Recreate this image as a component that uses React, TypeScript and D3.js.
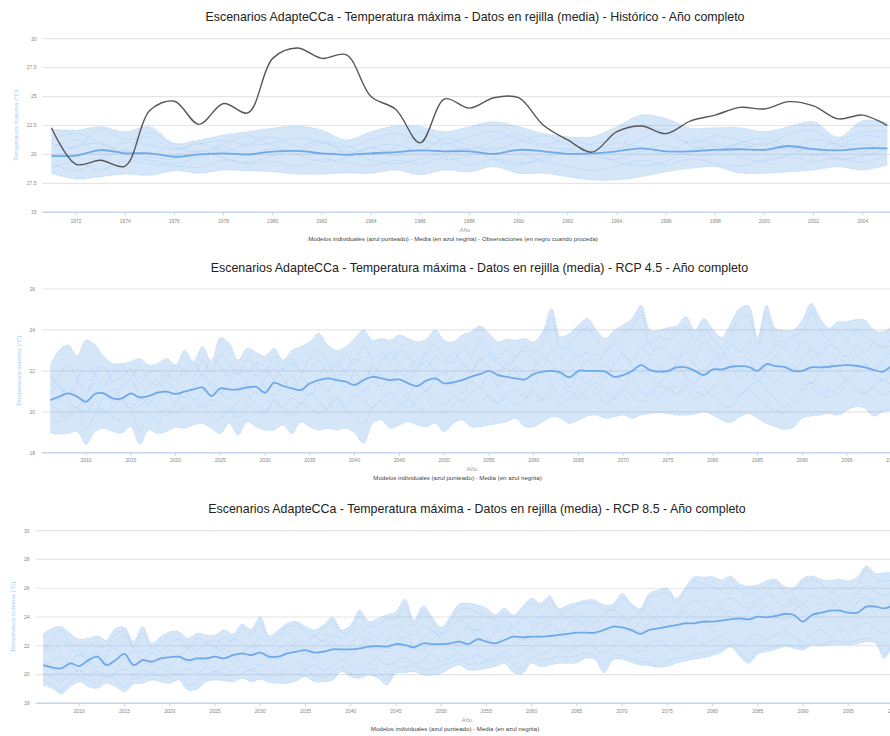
import React, { useEffect, useRef } from "react";
import * as d3 from "d3";

// ---------- Histórico (1971-2005) ----------
const histYears = d3.range(1971, 2006);
const histObs = [22.3, 19.15, 19.5, 19.0, 23.8, 24.6, 22.6, 24.4, 23.6, 28.3, 29.2, 28.3, 28.6, 25.0, 23.9, 21.0, 24.8, 24.0, 24.9, 24.9, 22.55, 21.25, 20.2, 21.97, 22.46, 21.8, 22.9, 23.4, 24.07, 23.93, 24.56, 24.19, 23.07, 23.4, 22.5];
const histMean = [19.87, 19.9, 20.38, 20.1, 20.1, 19.8, 20.0, 20.1, 20.0, 20.24, 20.3, 20.1, 19.97, 20.1, 20.2, 20.35, 20.27, 20.27, 20.05, 20.4, 20.27, 20.05, 20.1, 20.27, 20.53, 20.27, 20.27, 20.4, 20.45, 20.4, 20.73, 20.45, 20.35, 20.53, 20.53];
const histUpper = [22.17, 22.1, 22.4, 21.97, 22.4, 20.96, 21.25, 21.68, 21.97, 22.26, 22.46, 22.1, 21.25, 21.97, 22.46, 22.4, 21.97, 22.4, 22.83, 22.4, 21.83, 21.53, 21.53, 22.4, 23.4, 23.1, 22.26, 22.3, 22.3, 21.97, 22.4, 22.83, 21.48, 22.92, 22.74];
const histLower = [18.37, 17.88, 18.08, 18.31, 18.2, 18.6, 18.37, 18.65, 18.6, 18.5, 18.31, 18.3, 18.4, 18.37, 18.65, 18.25, 18.65, 18.5, 18.94, 18.37, 18.37, 18.08, 17.8, 17.8, 18.08, 18.5, 18.8, 18.94, 18.4, 18.37, 18.5, 18.65, 18.94, 18.65, 19.08];
const histModelA = [21.0, 20.6, 22.2, 21.3, 21.5, 20.5, 20.9, 21.2, 20.8, 21.0, 21.4, 21.0, 20.6, 21.3, 21.8, 21.2, 20.9, 21.5, 22.0, 21.3, 20.7, 20.5, 20.9, 21.4, 22.6, 21.8, 21.0, 21.6, 21.2, 20.8, 21.7, 22.1, 20.9, 21.6, 21.4];
const histModelB = [19.6, 20.7, 20.9, 20.0, 19.5, 19.2, 19.8, 20.6, 19.9, 20.5, 20.0, 19.4, 19.7, 20.6, 19.9, 20.8, 19.6, 19.9, 20.6, 20.2, 19.5, 20.3, 19.8, 19.6, 20.3, 20.8, 19.9, 20.1, 20.9, 20.3, 20.6, 19.9, 20.6, 20.9, 20.2];
const histModelC = [18.9, 19.3, 18.7, 19.4, 19.2, 19.0, 18.9, 19.5, 19.2, 19.4, 19.0, 19.6, 19.3, 19.0, 19.5, 19.2, 19.8, 19.1, 19.6, 19.3, 19.4, 19.0, 18.6, 19.0, 19.5, 19.1, 19.6, 19.2, 19.0, 19.5, 19.8, 19.4, 19.7, 19.3, 19.9];
const histModelD = [20.5, 21.3, 20.2, 21.0, 20.8, 20.4, 21.0, 20.3, 20.9, 21.5, 20.7, 21.2, 20.1, 20.6, 20.9, 20.2, 21.4, 20.8, 20.4, 21.1, 21.6, 20.9, 20.4, 21.0, 20.6, 20.1, 21.2, 20.9, 20.5, 21.0, 20.4, 21.3, 20.8, 20.2, 21.1];
const histModelE = [21.3, 21.8, 21.0, 20.4, 21.9, 20.7, 20.2, 20.9, 21.6, 20.8, 20.3, 21.0, 20.8, 20.0, 20.6, 21.9, 21.1, 20.4, 21.2, 21.7, 20.9, 21.3, 20.8, 20.5, 21.3, 22.2, 20.8, 20.4, 21.0, 21.4, 20.7, 20.4, 21.2, 21.9, 22.0];
const histModelF = [19.2, 18.6, 19.6, 20.3, 19.8, 19.6, 20.3, 19.7, 19.3, 19.9, 20.4, 20.0, 20.3, 19.5, 19.2, 19.6, 20.2, 20.5, 19.6, 19.1, 19.7, 20.4, 20.1, 19.4, 19.0, 19.4, 20.4, 20.7, 19.8, 19.4, 20.0, 20.5, 19.6, 19.9, 20.5];
const histTicks = d3.range(1972, 2005, 2);

// ---------- RCP 4.5 (2006-2100) ----------
const rcpYears = d3.range(2006, 2101);
const rcp45Upper = [
  22.28, 23.0, 23.26, 22.72, 23.5, 23.26, 22.7, 22.36, 22.36, 22.45,
  22.6, 22.28, 22.36, 22.6, 22.28, 23.0, 22.45, 23.18, 22.45, 23.63,
  23.34, 22.53, 23.1, 22.9, 22.72, 23.1, 22.53, 23.0, 23.18, 23.42,
  23.83, 23.26, 23.0, 23.18, 23.58, 24.0, 23.5, 23.58, 23.5, 23.75,
  23.58, 23.42, 23.54, 24.0, 23.5, 23.42, 23.75, 23.91, 24.19, 23.83,
  23.42, 23.54, 23.5, 23.58, 23.42, 23.91, 25.05, 23.67, 23.83, 24.24,
  24.56, 23.99, 23.59, 23.99, 24.24, 24.56, 25.21, 23.99, 23.99, 24.12,
  24.19, 24.64, 23.99, 24.56, 24.03, 23.64, 24.32, 25.05, 25.17, 23.64,
  25.21, 24.08, 23.99, 23.99, 24.48, 25.3, 24.56, 24.08, 24.4, 24.4,
  24.51, 24.48, 23.99, 23.91, 24.16,
];
const rcp45Lower = [
  18.98, 18.91, 18.94, 19.03, 18.41, 19.03, 19.19, 19.03, 18.98, 19.27,
  18.42, 19.11, 18.94, 19.03, 19.24, 19.19, 19.35, 19.43, 19.19, 18.94,
  19.43, 18.86, 19.51, 19.27, 19.11, 19.11, 19.35, 18.94, 19.51, 19.27,
  19.11, 19.19, 19.11, 19.19, 18.98, 18.46, 19.43, 19.6, 19.19, 19.35,
  19.51, 19.35, 19.27, 19.43, 19.03, 19.43, 19.6, 19.27, 19.27, 19.35,
  19.43, 19.51, 19.68, 19.27, 19.27, 19.51, 19.76, 19.68, 19.43, 19.6,
  19.79, 19.84, 19.68, 19.76, 19.84, 19.68, 19.84, 19.92, 19.95, 19.92,
  19.84, 19.84, 19.89, 20.0, 19.84, 19.6, 19.47, 19.76, 19.92, 19.68,
  19.43, 19.27, 19.14, 19.24, 19.68, 19.79, 19.84, 19.92, 19.84, 20.08,
  20.25, 20.16, 19.79, 20.0, 20.05,
];
const rcp45Mean = [
  20.57, 20.74, 20.9, 20.74, 20.49, 20.87, 20.9, 20.65, 20.65, 20.9,
  20.7, 20.77, 20.93, 20.98, 20.87, 20.98, 21.09, 21.19, 20.77, 21.14,
  21.09, 21.09, 21.19, 21.22, 20.93, 21.42, 21.26, 21.14, 21.06, 21.39,
  21.55, 21.63, 21.55, 21.47, 21.31, 21.55, 21.71, 21.63, 21.55, 21.58,
  21.39, 21.26, 21.52, 21.63, 21.39, 21.44, 21.55, 21.71, 21.84, 22.0,
  21.79, 21.71, 21.63, 21.58, 21.84, 21.96, 22.0, 21.91, 21.68, 22.0,
  22.0, 22.0, 21.96, 21.71, 21.79, 22.0, 22.28, 22.04, 21.96, 22.0,
  22.17, 22.17, 22.0, 21.79, 22.07, 22.07, 22.2, 22.23, 22.2, 22.0,
  22.33, 22.23, 22.2, 22.0, 22.0, 22.17, 22.17, 22.2, 22.26, 22.28,
  22.25, 22.17, 22.04, 21.96, 22.28,
];
const rcp45ModelA = [
  21.2, 21.8, 22.3, 21.6, 21.0, 21.9, 22.2, 21.5, 21.7, 22.1,
  21.4, 21.9, 22.0, 21.6, 22.3, 22.0, 21.7, 22.5, 21.9, 22.8,
  22.3, 21.8, 22.6, 22.2, 21.9, 22.7, 22.1, 22.4, 22.0, 22.6,
  23.0, 22.5, 22.2, 22.8, 22.3, 23.2, 22.6, 22.9, 22.4, 23.0,
  22.7, 22.2, 22.9, 23.3, 22.6, 22.4, 23.1, 22.8, 23.5, 23.0,
  22.6, 23.0, 22.7, 23.2, 22.9, 23.4, 24.6, 23.1, 23.3, 23.8,
  24.1, 23.5, 23.0, 23.4, 23.8, 24.1, 24.8, 23.3, 23.7, 23.5,
  23.9, 24.2, 23.4, 24.0, 23.6, 23.1, 23.8, 24.6, 24.7, 23.2,
  24.8, 23.6, 23.4, 23.7, 23.9, 24.9, 24.0, 23.5, 23.9, 23.6,
  24.0, 23.7, 23.4, 23.2, 23.6,
];
const rcp45ModelB = [
  19.8, 19.5, 19.9, 20.2, 19.2, 19.8, 20.1, 19.7, 19.6, 20.0,
  19.1, 19.8, 19.6, 20.1, 19.9, 20.3, 20.0, 20.4, 19.8, 19.6,
  20.2, 19.7, 20.3, 20.0, 19.9, 20.5, 20.1, 19.8, 20.4, 20.2,
  19.9, 20.3, 20.6, 20.1, 19.8, 19.4, 20.2, 20.5, 20.0, 20.3,
  20.6, 20.2, 20.0, 20.4, 19.9, 20.3, 20.6, 20.1, 20.5, 20.8,
  20.4, 20.7, 20.3, 20.6, 20.9, 20.5, 20.8, 20.4, 20.7, 21.0,
  20.6, 20.9, 20.4, 20.7, 21.1, 20.8, 20.5, 21.0, 20.7, 21.2,
  20.8, 21.1, 20.6, 21.0, 20.8, 20.4, 20.2, 20.8, 21.1, 20.7,
  20.3, 20.1, 19.9, 20.4, 20.9, 21.2, 20.8, 21.1, 20.9, 21.3,
  21.0, 20.9, 21.2, 20.8, 21.1,
];
const rcp45ModelC = [
  20.9, 21.3, 20.6, 20.2, 20.8, 21.4, 20.9, 20.5, 21.2, 21.6,
  20.8, 20.4, 21.0, 21.5, 21.1, 20.7, 21.3, 21.8, 21.2, 20.9,
  21.5, 21.9, 21.3, 20.9, 21.6, 22.1, 21.6, 21.1, 21.7, 21.3,
  21.8, 22.3, 21.6, 21.2, 21.9, 21.5, 22.2, 21.8, 21.4, 22.0,
  21.6, 22.1, 22.5, 21.9, 21.3, 21.8, 22.3, 21.9, 22.6, 22.2,
  21.8, 22.4, 22.0, 21.5, 22.1, 22.7, 22.3, 21.8, 21.2, 22.0,
  22.5, 22.1, 21.7, 22.3, 22.8, 22.2, 21.9, 22.6, 22.2, 21.8,
  22.4, 22.9, 22.3, 21.8, 22.5, 22.9, 22.4, 22.0, 22.6, 21.5,
  22.2, 22.7, 22.3, 21.9, 22.6, 23.0, 22.5, 22.1, 22.7, 22.3,
  22.8, 22.4, 22.0, 22.6, 22.9,
];
const rcp45ModelD = [
  20.1, 20.6, 21.2, 20.8, 20.3, 20.0, 20.7, 21.1, 20.6, 20.2,
  20.6, 21.2, 21.5, 20.9, 20.5, 21.0, 20.6, 20.9, 21.4, 21.0,
  20.6, 21.1, 21.4, 21.8, 21.2, 20.8, 21.3, 21.7, 21.1, 20.8,
  21.4, 21.0, 21.6, 21.9, 21.4, 21.0, 21.5, 21.2, 21.7, 21.3,
  20.9, 21.4, 21.0, 21.6, 21.9, 21.4, 20.9, 21.5, 21.2, 21.8,
  21.3, 21.7, 22.2, 21.8, 21.4, 21.9, 21.5, 22.1, 22.4, 21.7,
  21.4, 21.9, 22.3, 21.8, 21.5, 22.0, 22.4, 21.8, 21.4, 21.9,
  22.3, 21.7, 21.4, 22.0, 22.4, 21.9, 22.2, 21.6, 21.9, 22.4,
  21.8, 21.5, 21.9, 22.3, 21.7, 21.4, 21.9, 22.4, 22.0, 21.6,
  21.9, 22.3, 21.8, 21.5, 22.0,
];
const rcp45ModelE = [
  21.8, 21.2, 20.9, 21.5, 22.4, 21.8, 21.3, 21.9, 22.3, 21.7,
  22.2, 21.6, 21.3, 21.9, 21.5, 22.1, 22.4, 21.8, 22.6, 22.2,
  21.7, 22.3, 21.9, 22.4, 22.1, 21.6, 22.2, 22.6, 21.9, 22.1,
  22.5, 21.9, 22.4, 22.0, 22.6, 22.2, 21.8, 22.5, 22.9, 22.3,
  22.0, 22.6, 22.2, 22.7, 22.4, 22.9, 22.4, 22.0, 22.5, 22.8,
  22.4, 22.1, 22.7, 23.0, 22.5, 22.2, 23.0, 22.6, 23.1, 22.7,
  22.9, 22.4, 22.9, 23.3, 22.8, 22.5, 23.1, 22.8, 23.2, 22.9,
  22.6, 23.2, 22.8, 23.4, 23.0, 22.6, 23.3, 22.9, 23.4, 23.0,
  22.7, 23.3, 23.1, 22.8, 23.5, 23.1, 22.8, 23.3, 23.0, 22.7,
  23.2, 22.9, 23.4, 23.1, 23.3,
];
const rcp45ModelF = [
  20.4, 20.0, 19.6, 20.2, 20.0, 20.5, 19.9, 20.2, 20.6, 20.1,
  20.3, 20.6, 20.2, 19.8, 20.4, 20.1, 20.5, 20.2, 20.6, 20.3,
  20.0, 20.5, 20.8, 20.3, 20.0, 20.6, 20.2, 20.7, 20.4, 20.9,
  20.5, 20.1, 20.7, 20.3, 20.8, 20.5, 20.2, 20.6, 20.9, 20.5,
  20.2, 20.7, 21.0, 20.6, 20.3, 20.8, 20.5, 20.9, 21.2, 20.7,
  20.4, 20.9, 21.1, 20.7, 21.0, 20.6, 21.2, 20.8, 21.0, 20.7,
  21.1, 21.4, 21.0, 20.6, 21.2, 21.5, 21.0, 20.8, 21.3, 21.1,
  20.9, 21.3, 21.0, 20.8, 21.2, 21.4, 21.0, 20.8, 21.2, 21.5,
  21.1, 20.6, 20.2, 20.7, 21.1, 21.4, 21.0, 20.7, 21.2, 21.5,
  21.2, 20.9, 21.3, 21.6, 21.2,
];

// ---------- RCP 8.5 (2006-2100) ----------
const rcp85Upper = [
  22.82, 23.21, 23.33, 22.86, 22.45, 22.52, 22.68, 22.4, 23.21, 23.28,
  22.29, 23.33, 22.17, 22.63, 22.98, 22.98, 22.52, 22.86, 22.75, 22.75,
  23.1, 22.82, 23.51, 23.14, 24.02, 22.7, 23.1, 23.56, 23.68, 23.33,
  23.1, 23.44, 23.98, 23.1, 23.44, 24.49, 23.68, 23.91, 24.14, 24.37,
  25.23, 23.79, 24.76, 24.02, 23.28, 24.02, 24.9, 24.95, 24.83, 24.6,
  24.14, 24.6, 24.14, 24.72, 25.3, 24.95, 25.46, 24.6, 24.83, 25.0,
  25.18, 25.18, 24.83, 24.9, 25.64, 24.95, 24.6, 25.64, 25.88, 25.99,
  25.3, 26.06, 26.8, 26.76, 26.8, 26.57, 26.85, 26.3, 26.15, 26.22,
  26.52, 26.62, 26.1, 26.06, 26.69, 26.85, 26.62, 26.52, 26.62, 26.52,
  26.76, 27.54, 27.03, 27.08, 27.08,
];
const rcp85Lower = [
  19.27, 19.04, 18.65, 19.16, 19.5, 19.16, 19.04, 19.39, 19.16, 18.81,
  19.34, 19.39, 19.62, 19.5, 19.39, 19.62, 18.93, 18.97, 19.5, 19.62,
  19.57, 19.5, 19.74, 19.5, 19.67, 19.44, 19.39, 19.39, 19.57, 19.85,
  19.5, 19.51, 19.62, 20.2, 19.85, 19.74, 19.97, 19.74, 19.27, 20.08,
  20.13, 20.2, 19.97, 19.97, 20.08, 20.43, 20.66, 20.32, 20.32, 20.43,
  20.55, 20.78, 20.13, 20.08, 20.78, 20.55, 20.66, 20.78, 20.78, 20.82,
  21.13, 21.06, 20.13, 21.01, 21.06, 20.85, 20.66, 20.61, 20.5, 20.57,
  20.78, 20.94, 21.06, 21.17, 21.33, 21.56, 21.91, 21.27, 20.78, 21.43,
  21.59, 21.75, 21.94, 21.82, 21.7, 22.03, 21.98, 22.05, 22.05, 22.05,
  22.12, 22.28, 22.17, 21.13, 22.28,
];
const rcp85Mean = [
  20.66, 20.5, 20.43, 20.78, 20.59, 21.0, 21.24, 20.66, 21.0, 21.43,
  20.66, 21.0, 20.89, 21.12, 21.2, 21.24, 21.0, 21.12, 21.12, 21.24,
  21.12, 21.35, 21.47, 21.35, 21.52, 21.24, 21.24, 21.47, 21.59, 21.7,
  21.52, 21.59, 21.75, 21.75, 21.75, 21.82, 21.94, 21.98, 21.94, 22.12,
  22.05, 21.89, 22.17, 22.12, 22.12, 22.17, 22.29, 22.12, 22.45, 22.29,
  22.17, 22.4, 22.63, 22.59, 22.63, 22.63, 22.68, 22.75, 22.82, 22.91,
  22.91, 22.91, 23.1, 23.33, 23.28, 23.1, 22.82, 23.1, 23.21, 23.33,
  23.44, 23.56, 23.56, 23.68, 23.68, 23.75, 23.84, 23.91, 23.84, 24.02,
  23.98, 24.07, 24.21, 24.14, 23.68, 24.14, 24.3, 24.44, 24.44, 24.3,
  24.3, 24.72, 24.72, 24.6, 24.83,
];
const rcp85ModelA = [
  21.4, 22.6, 23.1, 22.2, 21.8, 21.2, 21.9, 22.0, 22.8, 23.0,
  21.9, 22.9, 21.8, 22.2, 22.7, 22.4, 21.8, 22.5, 22.3, 22.0,
  22.6, 22.3, 23.2, 22.8, 23.6, 22.4, 22.8, 23.3, 23.4, 23.0,
  22.7, 23.2, 23.7, 22.9, 23.1, 24.0, 23.3, 23.5, 23.8, 23.9,
  24.8, 23.4, 24.4, 23.6, 22.9, 23.7, 24.5, 24.6, 24.3, 24.1,
  23.8, 24.2, 24.0, 24.5, 25.0, 24.7, 25.2, 24.3, 24.5, 24.8,
  25.0, 24.9, 24.5, 24.6, 25.3, 24.8, 24.2, 25.4, 25.5, 25.7,
  25.0, 25.8, 26.5, 26.3, 26.1, 25.9, 26.6, 25.8, 25.6, 25.9,
  26.2, 26.4, 25.7, 25.9, 26.4, 26.6, 26.3, 25.8, 26.1, 25.9,
  26.2, 27.3, 26.7, 26.5, 26.6,
];
const rcp85ModelB = [
  19.6, 19.3, 18.9, 19.5, 19.8, 19.6, 19.4, 19.9, 19.6, 19.1,
  19.7, 19.8, 20.0, 19.9, 19.8, 20.1, 19.3, 19.4, 19.9, 20.2,
  20.0, 19.9, 20.1, 20.3, 20.0, 19.9, 19.9, 20.2, 20.0, 20.3,
  19.9, 19.8, 20.2, 20.5, 20.1, 20.0, 20.4, 20.2, 19.6, 20.4,
  20.5, 20.6, 20.3, 20.4, 20.6, 20.8, 21.0, 20.7, 20.8, 20.9,
  21.0, 21.2, 20.7, 20.4, 21.2, 21.0, 21.1, 21.3, 21.2, 21.3,
  21.5, 21.2, 20.6, 21.3, 21.3, 21.1, 20.9, 20.8, 20.6, 20.9,
  21.1, 21.2, 21.4, 21.5, 21.6, 21.8, 22.0, 21.5, 21.0, 21.7,
  21.8, 22.0, 22.1, 22.0, 21.9, 22.2, 22.1, 22.3, 22.3, 22.2,
  22.4, 22.5, 22.4, 21.4, 22.5,
];
const rcp85ModelC = [
  20.4, 20.9, 21.3, 20.7, 20.2, 20.8, 21.5, 20.9, 20.4, 21.1,
  21.6, 21.0, 20.6, 21.2, 21.7, 21.3, 20.8, 21.0, 21.5, 21.9,
  21.4, 20.9, 21.5, 22.0, 21.6, 21.1, 21.7, 22.2, 21.8, 21.4,
  22.0, 22.4, 21.8, 21.5, 22.1, 22.6, 22.0, 21.7, 22.3, 22.8,
  22.2, 21.8, 22.5, 23.0, 22.4, 22.1, 22.8, 23.2, 22.6, 22.3,
  23.0, 23.4, 22.8, 22.4, 23.1, 23.6, 23.0, 22.7, 23.4, 23.8,
  23.2, 22.9, 23.6, 24.0, 23.4, 23.0, 23.7, 24.2, 23.6, 23.3,
  24.0, 24.4, 23.8, 23.5, 24.2, 24.6, 24.0, 23.7, 24.4, 24.8,
  24.2, 23.9, 24.6, 25.0, 24.4, 24.1, 24.8, 25.2, 24.6, 24.3,
  25.0, 25.4, 24.9, 24.6, 25.3,
];
const rcp85ModelD = [
  21.0, 20.4, 20.1, 20.8, 21.4, 20.9, 20.5, 21.3, 21.8, 21.2,
  20.6, 21.0, 21.5, 20.9, 20.6, 21.2, 21.7, 21.2, 20.8, 21.4,
  21.8, 21.3, 20.9, 21.5, 22.0, 21.4, 21.1, 21.7, 22.2, 21.6,
  21.2, 21.8, 22.3, 21.7, 21.4, 21.9, 22.5, 21.9, 21.6, 22.2,
  22.6, 22.0, 21.7, 22.4, 22.9, 22.3, 22.0, 22.6, 23.1, 22.5,
  22.2, 22.8, 23.3, 22.7, 22.4, 23.0, 23.5, 22.9, 22.6, 23.2,
  23.7, 23.1, 22.8, 23.4, 23.9, 23.3, 23.0, 23.6, 24.1, 23.5,
  23.2, 23.8, 24.3, 23.7, 23.4, 24.0, 24.5, 23.9, 23.6, 24.2,
  24.7, 24.1, 23.8, 24.4, 24.9, 24.3, 24.0, 24.6, 25.1, 24.5,
  24.2, 24.8, 25.3, 24.7, 24.4,
];
const rcp85ModelE = [
  22.0, 21.6, 22.3, 21.9, 21.3, 21.9, 22.2, 21.6, 22.3, 22.7,
  21.8, 21.5, 21.9, 21.6, 22.1, 22.5, 22.0, 21.7, 22.1, 22.4,
  22.0, 22.5, 22.2, 21.9, 22.6, 22.1, 22.4, 22.9, 22.5, 22.2,
  22.7, 22.3, 22.8, 22.5, 22.9, 23.4, 22.9, 22.6, 23.1, 23.5,
  23.0, 22.8, 23.4, 23.1, 22.7, 23.3, 23.8, 23.4, 23.1, 23.6,
  23.3, 23.7, 23.4, 23.9, 23.6, 24.1, 23.7, 24.2, 23.9, 24.3,
  24.0, 23.6, 24.2, 24.5, 24.1, 23.8, 24.4, 24.8, 24.3, 24.6,
  24.2, 24.7, 25.1, 24.8, 24.5, 25.0, 25.3, 24.9, 24.6, 25.2,
  25.6, 25.1, 24.8, 25.3, 25.0, 25.5, 25.2, 25.7, 25.4, 25.1,
  25.6, 26.2, 25.8, 25.5, 25.9,
];
const rcp85ModelF = [
  20.1, 19.8, 19.5, 20.0, 20.3, 19.9, 20.2, 19.8, 20.1, 20.4,
  20.0, 20.3, 20.1, 20.5, 20.2, 20.0, 20.4, 20.1, 20.5, 20.2,
  20.5, 20.2, 20.6, 20.3, 20.7, 20.4, 20.1, 20.5, 20.8, 20.4,
  20.7, 20.3, 20.6, 21.0, 20.6, 20.3, 20.8, 21.1, 20.7, 20.9,
  21.2, 20.8, 21.0, 21.4, 20.9, 21.2, 21.5, 21.1, 21.4, 21.0,
  21.3, 21.6, 21.2, 21.5, 21.9, 21.4, 21.7, 22.0, 21.6, 21.9,
  22.2, 21.8, 21.5, 22.0, 22.3, 21.9, 21.6, 22.1, 22.4, 22.0,
  21.7, 22.2, 22.5, 22.1, 22.4, 22.7, 22.3, 22.0, 22.5, 22.8,
  22.4, 22.8, 23.0, 22.6, 22.3, 22.8, 23.1, 22.7, 23.2, 22.9,
  23.3, 23.6, 23.2, 22.9, 23.4,
];
const rcpTicks = d3.range(2010, 2101, 5);

const yLabel = "Temperatura máxima (°C)";
const titleBase = "Escenarios AdapteCCa - Temperatura máxima - Datos en rejilla (media) - ";

type Panel = {
  title: string;
  titleX: number;
  titleY: number;
  years: number[];
  upper: number[];
  lower: number[];
  mean: number[];
  models: number[][];
  obs?: number[];
  xTicks: number[];
  xKnown: [number, number];
  xPix: [number, number];
  plotLeft: number;
  yDomain: [number, number];
  yPix: [number, number];
  yTicks: number[];
  yTickX: number;
  yTitleX: number;
  xTickY: number;
  anoX: number;
  anoY: number;
  sub: string;
  subX: number;
  subY: number;
};

const panels: Panel[] = [
  {
    title: titleBase + "Histórico - Año completo",
    titleX: 475, titleY: 20.5,
    years: histYears, upper: histUpper, lower: histLower, mean: histMean,
    models: [histModelA, histModelB, histModelC, histModelD, histModelE, histModelF], obs: histObs,
    xTicks: histTicks, xKnown: [1972, 2004], xPix: [76, 862.7], plotLeft: 42.7,
    yDomain: [15, 30], yPix: [212.3, 38.7], yTicks: [15, 17.5, 20, 22.5, 25, 27.5, 30],
    yTickX: 36.5, yTitleX: 18, xTickY: 223,
    anoX: 465, anoY: 232,
    sub: "Modelos individuales (azul punteado) - Media (en azul negrita) - Observaciones (en negro cuando proceda)",
    subX: 453, subY: 241,
  },
  {
    title: titleBase + "RCP 4.5 - Año completo",
    titleX: 479.5, titleY: 272.3,
    years: rcpYears, upper: rcp45Upper, lower: rcp45Lower, mean: rcp45Mean,
    models: [rcp45ModelA, rcp45ModelB, rcp45ModelC, rcp45ModelD, rcp45ModelE, rcp45ModelF],
    xTicks: rcpTicks, xKnown: [2010, 2090], xPix: [86, 802.3], plotLeft: 41.7,
    yDomain: [18, 26], yPix: [452.7, 289], yTicks: [18, 20, 22, 24, 26],
    yTickX: 35, yTitleX: 21, xTickY: 462.3,
    anoX: 472, anoY: 471,
    sub: "Modelos individuales (azul punteado) - Media (en azul negrita)",
    subX: 457.5, subY: 479.5,
  },
  {
    title: titleBase + "RCP 8.5 - Año completo",
    titleX: 477, titleY: 512.7,
    years: rcpYears, upper: rcp85Upper, lower: rcp85Lower, mean: rcp85Mean,
    models: [rcp85ModelA, rcp85ModelB, rcp85ModelC, rcp85ModelD, rcp85ModelE, rcp85ModelF],
    xTicks: rcpTicks, xKnown: [2010, 2090], xPix: [79.3, 803], plotLeft: 35.7,
    yDomain: [18, 30], yPix: [703.3, 530.7], yTicks: [18, 20, 22, 24, 26, 28, 30],
    yTickX: 29.5, yTitleX: 15, xTickY: 712.7,
    anoX: 467, anoY: 722,
    sub: "Modelos individuales (azul punteado) - Media (en azul negrita)",
    subX: 455, subY: 731,
  },
];

const W = 890;
const H = 736;
const FONT = "Arial, 'Liberation Sans', sans-serif";

export default function App() {
  const ref = useRef<SVGSVGElement>(null);

  useEffect(() => {
    const svg = d3.select(ref.current);
    svg.selectAll("*").remove();
    svg.append("rect").attr("width", W).attr("height", H).attr("fill", "#fff");

    panels.forEach((p) => {
      const g = svg.append("g");
      const x = d3.scaleLinear().domain(p.xKnown).range(p.xPix);
      const y = d3.scaleLinear().domain(p.yDomain).range(p.yPix);
      const curve = d3.curveCatmullRom.alpha(0.5);

      // gridlines
      g.selectAll("line.grid")
        .data(p.yTicks.slice(1))
        .enter()
        .append("line")
        .attr("x1", p.plotLeft)
        .attr("x2", W)
        .attr("y1", (d) => y(d))
        .attr("y2", (d) => y(d))
        .attr("stroke", "#e6e6e6")
        .attr("stroke-width", 1.2);

      // envelope (min/max of models)
      const area = d3
        .area<number>()
        .x((_, i) => x(p.years[i]))
        .y0((_, i) => y(p.lower[i]))
        .y1((d) => y(d))
        .curve(curve);
      g.append("path")
        .attr("d", area(p.upper)!)
        .attr("fill", "#5d9de6")
        .attr("fill-opacity", 0.25);

      const line = d3
        .line<number>()
        .x((_, i) => x(p.years[i]))
        .y((d) => y(d))
        .curve(curve);

      // individual models (dotted)
      [p.upper, p.lower, ...p.models].forEach((m) => {
        g.append("path")
          .attr("d", line(m)!)
          .attr("fill", "none")
          .attr("stroke", "#93c2f0")
          .attr("stroke-width", 1)
          .attr("stroke-dasharray", "1,1.5")
          .attr("opacity", 0.7);
      });

      // ensemble mean
      g.append("path")
        .attr("d", line(p.mean)!)
        .attr("fill", "none")
        .attr("stroke", "#6fa9e8")
        .attr("stroke-width", 1.8);

      // observations
      if (p.obs) {
        g.append("path")
          .attr("d", line(p.obs)!)
          .attr("fill", "none")
          .attr("stroke", "#575757")
          .attr("stroke-width", 1.4);
      }

      // baseline + ticks
      const y0 = y(p.yTicks[0]);
      g.append("line")
        .attr("x1", p.plotLeft)
        .attr("x2", W)
        .attr("y1", y0)
        .attr("y2", y0)
        .attr("stroke", "#c6d4ee")
        .attr("stroke-width", 1.5);
      g.selectAll("line.xt")
        .data(p.xTicks)
        .enter()
        .append("line")
        .attr("x1", (d) => x(d))
        .attr("x2", (d) => x(d))
        .attr("y1", y0)
        .attr("y2", y0 + 3)
        .attr("stroke", "#c6d4ee");

      g.selectAll("text.xt")
        .data(p.xTicks)
        .enter()
        .append("text")
        .attr("x", (d) => x(d))
        .attr("y", p.xTickY)
        .attr("text-anchor", "middle")
        .attr("font-family", FONT)
        .attr("font-size", 5)
        .attr("fill", "#888")
        .text((d) => String(d));

      g.selectAll("text.yt")
        .data(p.yTicks)
        .enter()
        .append("text")
        .attr("x", p.yTickX)
        .attr("y", (d) => y(d) + 1.8)
        .attr("text-anchor", "end")
        .attr("font-family", FONT)
        .attr("font-size", 5)
        .attr("fill", "#888")
        .text((d) => String(d));

      const ymid = (p.yPix[0] + p.yPix[1]) / 2;
      g.append("text")
        .attr("transform", `translate(${p.yTitleX},${ymid}) rotate(-90)`)
        .attr("text-anchor", "middle")
        .attr("font-family", FONT)
        .attr("font-size", 6.2)
        .attr("fill", "#a3cdf5")
        .text(yLabel);

      g.append("text")
        .attr("x", p.titleX)
        .attr("y", p.titleY)
        .attr("text-anchor", "middle")
        .attr("font-family", FONT)
        .attr("font-size", 12.4)
        .attr("fill", "#222")
        .text(p.title);

      g.append("text")
        .attr("x", p.anoX)
        .attr("y", p.anoY)
        .attr("text-anchor", "middle")
        .attr("font-family", FONT)
        .attr("font-size", 5.8)
        .attr("fill", "#999")
        .text("Año");

      g.append("text")
        .attr("x", p.subX)
        .attr("y", p.subY)
        .attr("text-anchor", "middle")
        .attr("font-family", FONT)
        .attr("font-size", 6.1)
        .attr("fill", "#444")
        .text(p.sub);
    });
  }, []);

  return (
    <div style={{ position: "absolute", left: 0, top: 0 }}>
      <svg ref={ref} width={W} height={H} style={{ display: "block" }} />
    </div>
  );
}
